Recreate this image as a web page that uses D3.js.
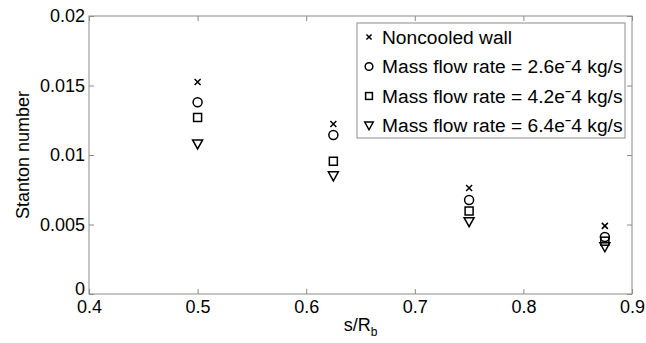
<!DOCTYPE html>
<html lang="en">
<head>
<meta charset="UTF-8">
<title>Stanton number vs s/Rb</title>
<script src="https://d3js.org/d3.v7.min.js"></script>
<style>
  body { margin: 0; background: #fff; font-family: "Liberation Sans", Arial, sans-serif; }
  .axis text { font-size: 18px; fill: #000; font-family: "Liberation Sans", Arial, sans-serif; }
  .axis path, .axis line { stroke: #8c8c8c; }
</style>
</head>
<body>
<div id="chart"></div>
<script>
// positions along the bend
const sR = [0.5, 0.625, 0.75, 0.875];

// Stanton number per case
const noncooled = [0.01525, 0.01223, 0.00763, 0.00490];
const flow26 = [0.01380, 0.01144, 0.00676, 0.00410];
const flow42 = [0.01270, 0.00955, 0.00597, 0.00380];
const flow64 = [0.01080, 0.00850, 0.00520, 0.00340];

const xTicks = [0.4, 0.5, 0.6, 0.7, 0.8, 0.9];
const yTicks = [0, 0.005, 0.01, 0.015, 0.02];

const series = [
  { label: "Noncooled wall", values: noncooled, marker: "x" },
  { label: "Mass flow rate = 2.6e\u02C94 kg/s", values: flow26, marker: "o" },
  { label: "Mass flow rate = 4.2e\u02C94 kg/s", values: flow42, marker: "s" },
  { label: "Mass flow rate = 6.4e\u02C94 kg/s", values: flow64, marker: "v" }
];

const W = 646, H = 343;
const margin = { top: 16, right: 14, bottom: 49, left: 89 };
const width = W - margin.left - margin.right,
      height = H - margin.top - margin.bottom;

const svg = d3.select("#chart").append("svg")
  .attr("width", W).attr("height", H);
const g = svg.append("g").attr("transform", `translate(${margin.left},${margin.top})`);

const x = d3.scaleLinear().domain([0.4, 0.9]).range([0, width]);
const y = d3.scaleLinear().domain([0, 0.02]).range([height, 0]);

// box
g.append("rect").attr("width", width).attr("height", height)
  .attr("fill", "none").attr("stroke", "#8c8c8c").attr("stroke-width", 1);

// inward ticks, all four sides
const tk = 5;
g.append("g").attr("class", "axis").attr("transform", `translate(0,${height})`)
  .call(d3.axisBottom(x).tickValues(xTicks).tickSize(-tk).tickPadding(5).tickFormat(d3.format("")))
  .call(a => a.select(".domain").remove())
  .selectAll("text").attr("dy", "0.8em");
g.append("g").attr("class", "axis")
  .call(d3.axisTop(x).tickValues(xTicks).tickSize(-tk).tickFormat(""))
  .call(a => a.select(".domain").remove());
g.append("g").attr("class", "axis")
  .call(d3.axisLeft(y).tickValues(yTicks).tickSize(-tk).tickPadding(4).tickFormat(d3.format("")))
  .call(a => a.select(".domain").remove())
  .selectAll("text").attr("dy", d => d === 0 ? "0.05em" : "0.32em");
g.append("g").attr("class", "axis").attr("transform", `translate(${width},0)`)
  .call(d3.axisRight(y).tickValues(yTicks).tickSize(-tk).tickFormat(""))
  .call(a => a.select(".domain").remove());

// marker shapes
function drawMarker(sel, type, k = 1) {
  let m;
  if (type === "x") m = sel.append("path").attr("d", `M${-3*k},${-3*k}L${3*k},${3*k}M${-3*k},${3*k}L${3*k},${-3*k}`);
  else if (type === "o") m = sel.append("circle").attr("r", 4.5 * k);
  else if (type === "s") m = sel.append("rect").attr("x", -4 * k).attr("y", -4 * k).attr("width", 8 * k).attr("height", 8 * k);
  else m = sel.append("path").attr("d", `M${-5*k},${-4*k}L${5*k},${-4*k}L0,${5*k}Z`);
  m.attr("fill", "none").attr("stroke", "#000").attr("stroke-width", 1.5);
}

series.forEach(s => {
  g.append("g").selectAll("g")
    .data(s.values.map((v, i) => [sR[i], v]))
    .join("g")
    .attr("transform", d => `translate(${x(d[0])},${y(d[1])})`)
    .each(function () { drawMarker(d3.select(this), s.marker); });
});

// axis labels
svg.append("text")
  .attr("transform", `translate(29,${margin.top + height / 2}) rotate(-90)`)
  .attr("text-anchor", "middle").attr("font-size", 18)
  .text("Stanton number");

const xl = svg.append("text")
  .attr("x", margin.left + width / 2).attr("y", 331)
  .attr("text-anchor", "middle").attr("font-size", 18);
xl.append("tspan").text("s/R");
xl.append("tspan").attr("font-size", 12).attr("dy", 5).text("b");

// legend
const legend = svg.append("g").attr("transform", "translate(357,23)");
legend.append("rect").attr("width", 268).attr("height", 115)
  .attr("fill", "#fff").attr("stroke", "#8c8c8c");
series.forEach((s, i) => {
  const row = legend.append("g").attr("transform", `translate(0,${14 + i * 29.5})`);
  row.append("g").attr("transform", "translate(12,0)")
    .call(sel => drawMarker(sel, s.marker, 0.85));
  row.append("text").attr("x", 25).attr("dy", "0.36em")
    .attr("font-size", 19.2).text(s.label);
});
</script>
</body>
</html>
